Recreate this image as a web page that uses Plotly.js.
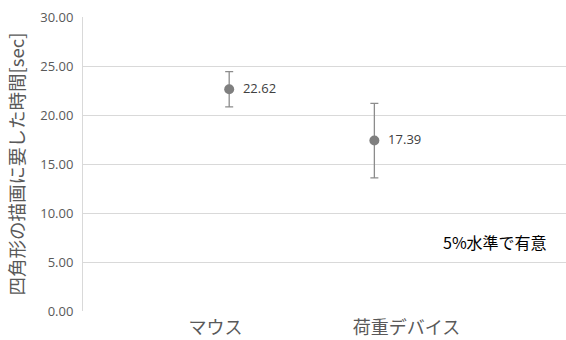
<!DOCTYPE html>
<html><head><meta charset="utf-8">
<script src="https://cdn.plot.ly/plotly-3.0.1.min.js"></script>
<style>html,body{margin:0;padding:0;background:#fff}</style>
</head><body><div id="chart" style="width:566px;height:340px"></div>
<script>
const categories = ['マウス', '荷重デバイス'];
const meanTimes = [22.62, 17.39];
const errPlus = [1.8, 3.8];
const errMinus = [1.8, 3.8];
const yTicks = [0, 5, 10, 15, 20, 25, 30];
const yTickLabels = yTicks.map(v => v.toFixed(2));
const yTitle = '四角形の描画に要した時間[sec]';
const note = '5%水準で有意';

const idx = categories.map((c, i) => i);

const trace = {
  x: idx,
  y: meanTimes,
  type: 'scatter',
  mode: 'markers+text',
  text: meanTimes.map(v => '\u2002' + v.toFixed(2)),
  textposition: 'middle right',
  textfont: {family: 'Open Sans, sans-serif', size: 13, color: '#404040'},
  marker: {color: '#7f7f7f', size: 10},
  error_y: {type: 'data', symmetric: false, array: errPlus, arrayminus: errMinus,
            color: '#8c8c8c', thickness: 1.3, width: 4},
  cliponaxis: false,
  hoverinfo: 'none'
};

// carrier trace for the category label axis
const labelTrace = {
  x: idx, y: categories.map(() => null),
  xaxis: 'x2', yaxis: 'y',
  type: 'scatter', mode: 'markers', hoverinfo: 'none', showlegend: false
};

const layout = {
  width: 566, height: 340,
  margin: {l: 83, r: 0, t: 17, b: 29},
  paper_bgcolor: '#fff', plot_bgcolor: '#fff',
  showlegend: false,
  font: {family: 'Noto Sans CJK JP, sans-serif', color: '#595959'},
  xaxis: {
    range: [-1.007, 2.32],
    showticklabels: false,
    showgrid: false, zeroline: false,
    showline: false, ticks: '', fixedrange: true
  },
  xaxis2: {
    overlaying: 'x', anchor: 'y', side: 'bottom',
    range: [-0.694, 1.835],
    tickvals: idx,
    ticktext: categories,
    tickfont: {size: 18, color: '#595959'},
    ticklabelstandoff: 4,
    showgrid: false, zeroline: false,
    showline: false, ticks: '', fixedrange: true
  },
  yaxis: {
    range: [0, 30],
    tickvals: yTicks, ticktext: yTickLabels,
    tickfont: {size: 13, color: '#595959', family: 'Open Sans, sans-serif'},
    ticklabelstandoff: 6,
    showgrid: true, gridcolor: '#d9d9d9', gridwidth: 1,
    zeroline: false, showline: true, linecolor: '#d9d9d9', linewidth: 1,
    ticks: '',
    title: {text: yTitle, font: {size: 18.5, color: '#595959'}, standoff: 10}
  },
  annotations: [{
    text: note, xref: 'paper', yref: 'y', x: 0.852, y: 7.0,
    showarrow: false, xanchor: 'center', yanchor: 'middle',
    font: {size: 16, color: '#000', family: 'Noto Sans CJK JP, sans-serif'}
  }]
};

Plotly.newPlot('chart', [trace, labelTrace], layout, {staticPlot: true, displayModeBar: false});
</script></body></html>
